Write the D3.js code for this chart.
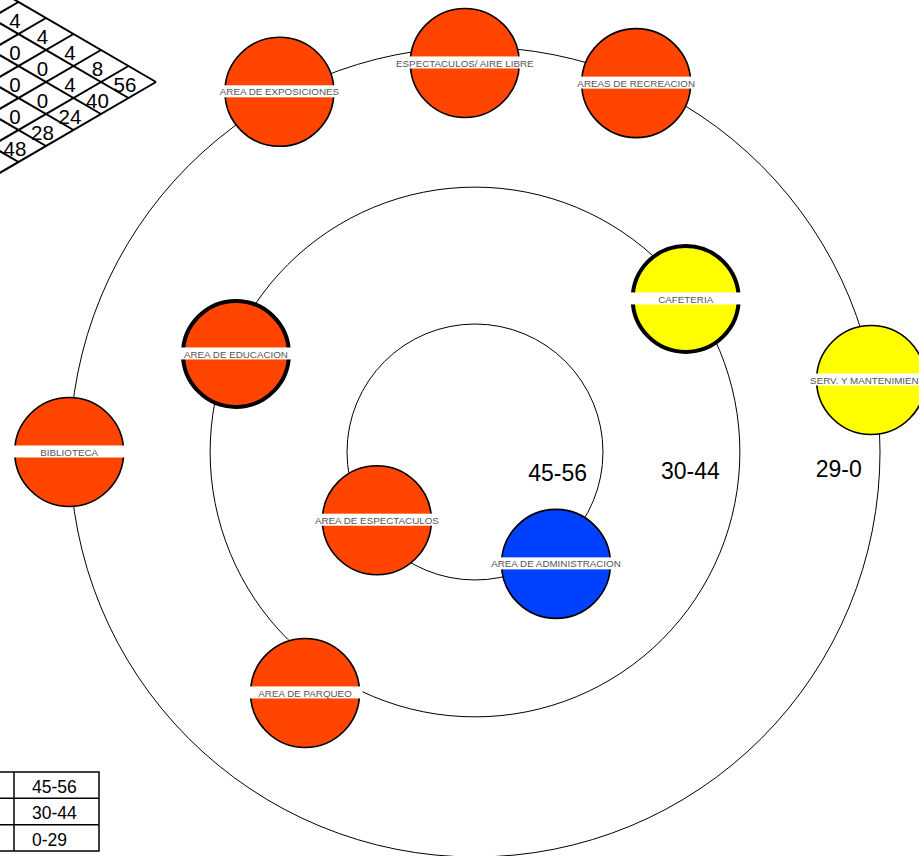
<!DOCTYPE html>
<html><head><meta charset="utf-8">
<script src="https://cdn.jsdelivr.net/npm/d3@7/dist/d3.min.js"></script>
<style>html,body{margin:0;padding:0;background:#fff;overflow:hidden}</style>
</head><body>
<svg id="chart" width="919" height="856"></svg>
<script>
// ---------- DATA ----------
const ringLabels = ["45-56", "30-44", "29-0"];
const ringDistance = [0.316, 0.654, 1.0];          // ring radius, fraction of outer ring
const ringLabelDistance = [0.204, 0.532, 0.898];   // label distance along the east axis
const legendLabels = ["45-56", "30-44", "0-29"];

const nodeNames = ["AREA DE EXPOSICIONES", "ESPECTACULOS/ AIRE LIBRE", "AREAS DE RECREACION",
  "CAFETERIA", "SERV. Y MANTENIMIENTO", "AREA DE EDUCACION", "BIBLIOTECA",
  "AREA DE ESPECTACULOS", "AREA DE ADMINISTRACION", "AREA DE PARQUEO"];
const nodeBearing = [331.5, 358.5, 23.6, 54.0, 79.7, 292.3, 270.0, 235.2, 144.1, 215.2];
const nodeDistance = [1.012, 0.961, 0.994, 0.643, 0.994, 0.638, 1.002, 0.295, 0.341, 0.728];
const nodeClass = ["red", "red", "red", "yellow", "yellow", "red", "red", "red", "blue", "red"];
const nodeStrong = [false, false, false, true, false, true, false, false, false, false];

// relationship matrix values, by diagonal (n) then step (m)
const matrixValues = [
  [56, 8, 4, 4, 4],
  [40, 4, 0, 0],
  [24, 0, 0],
  [28, 0],
  [48]
];

// ---------- LAYOUT ----------
const svg = d3.select("#chart");
const cx = 475, cy = 452, R = 405, nodeR = 54.5;
const rScale = d3.scaleLinear().domain([0, 1]).range([0, R]);
const colorScale = d3.scaleOrdinal().domain(["red", "yellow", "blue"]).range(["#FF4500", "#FFFF00", "#0040FF"]);

// concentric rings
svg.append("g").selectAll("circle").data(ringDistance).join("circle")
  .attr("cx", cx).attr("cy", cy).attr("r", d => rScale(d))
  .attr("fill", "none").attr("stroke", "#000").attr("stroke-width", 1);

// ring labels
svg.append("g").selectAll("text").data(ringLabels).join("text")
  .attr("x", (d, i) => cx + rScale(ringLabelDistance[i]))
  .attr("y", (d, i) => cy + 29 - 2 * i)
  .attr("text-anchor", "middle")
  .attr("font-family", "Liberation Sans, Arial, sans-serif")
  .attr("font-size", 23).attr("fill", "#000").text(d => d);

// nodes
const nodes = nodeNames.map((name, i) => {
  const a = nodeBearing[i] * Math.PI / 180, d = rScale(nodeDistance[i]);
  return { name, x: cx + d * Math.sin(a), y: cy - d * Math.cos(a), cls: nodeClass[i], strong: nodeStrong[i] };
});
const ng = svg.append("g").selectAll("g").data(nodes).join("g")
  .attr("transform", d => `translate(${d.x},${d.y})`);
ng.append("circle")
  .attr("r", d => d.strong ? nodeR - 1.5 : nodeR)
  .attr("fill", d => colorScale(d.cls))
  .attr("stroke", "#000")
  .attr("stroke-width", d => d.strong ? 4 : 1.6);
ng.append("rect")
  .attr("x", -nodeR - 3).attr("width", 2 * nodeR + 6)
  .attr("y", -6.5).attr("height", 12)
  .attr("fill", "#fff");
ng.append("text")
  .attr("y", 3.6).attr("text-anchor", "middle")
  .attr("font-family", "Liberation Sans, Arial, sans-serif")
  .attr("font-size", 9.8).attr("fill", "#555")
  .text(d => d.name);

// relationship matrix (lattice)
const sx = d3.scaleLinear().domain([0, 1]).range([156, 128.5]);
const sy = d3.scaleLinear().domain([0, 1]).range([82, 98]);
const N = 8;
const mg = svg.append("g");
const lines = [];
for (let k = 0; k <= N; k++) {
  lines.push([[k, 0], [k, N - k]]);   // constant m
  lines.push([[0, k], [N - k, k]]);   // constant n
}
mg.selectAll("line").data(lines).join("line")
  .attr("x1", d => sx(d[0][0] + d[0][1])).attr("y1", d => sy(d[0][1] - d[0][0]))
  .attr("x2", d => sx(d[1][0] + d[1][1])).attr("y2", d => sy(d[1][1] - d[1][0]))
  .attr("stroke", "#000").attr("stroke-width", 2);
const cells = [];
matrixValues.forEach((row, n) => row.forEach((v, m) => cells.push({ m, n, v })));
mg.selectAll("text").data(cells).join("text")
  .attr("x", d => sx(d.m + d.n + 1) - 3.5)
  .attr("y", d => sy(d.n - d.m) + 10)
  .attr("text-anchor", "middle")
  .attr("font-family", "Liberation Sans, Arial, sans-serif")
  .attr("font-size", 20.5).attr("fill", "#000")
  .text(d => d.v);

// legend table
const lg = svg.append("g");
const rowY = d3.scaleLinear().domain([0, 3]).range([772, 851]);
lg.append("rect").attr("x", -2).attr("y", rowY(0)).attr("width", 101).attr("height", rowY(3) - rowY(0))
  .attr("fill", "none").attr("stroke", "#000").attr("stroke-width", 1.5);
lg.selectAll("line.row").data([1, 2]).join("line").attr("class", "row")
  .attr("x1", 0).attr("x2", 99).attr("y1", d => rowY(d)).attr("y2", d => rowY(d))
  .attr("stroke", "#000").attr("stroke-width", 1.5);
lg.append("line").attr("x1", 14).attr("x2", 14).attr("y1", rowY(0)).attr("y2", rowY(3))
  .attr("stroke", "#000").attr("stroke-width", 1.5);
lg.selectAll("text").data(legendLabels).join("text")
  .attr("x", 32).attr("y", (d, i) => rowY(i) + 21)
  .attr("font-family", "Liberation Sans, Arial, sans-serif")
  .attr("font-size", 17.5).attr("fill", "#000").text(d => d);
</script>
</body></html>
